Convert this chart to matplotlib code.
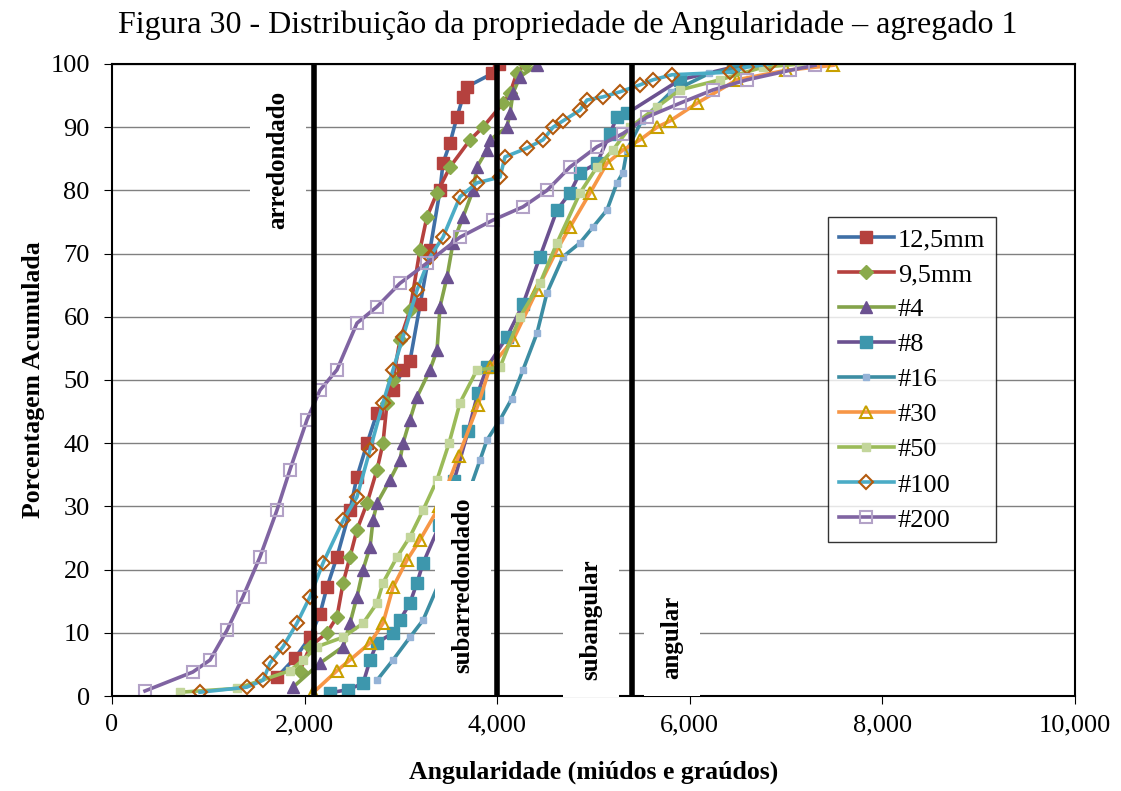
import matplotlib.pyplot as plt
from matplotlib.ticker import FuncFormatter

# Pontos (angularidade, % acumulada)
x_125 = [1713, 1900, 2056, 2160, 2232, 2336, 2471, 2544, 2650, 2752, 2918, 3022, 3094, 3200, 3302, 3406, 3437, 3510, 3582, 3645, 3686, 3950, 4020]
y_125 = [3, 6, 9.3, 13, 17.2, 22, 29.4, 34.7, 40, 44.8, 48.4, 51.6, 53, 62, 70.6, 80, 84.3, 87.5, 91.6, 94.8, 96.4, 98.5, 100]

x_95 = [1952, 2056, 2232, 2336, 2400, 2471, 2544, 2648, 2752, 2814, 2856, 2918, 2990, 3094, 3198, 3270, 3375, 3510, 3718, 3852, 4060, 4133, 4205, 4290]
y_95 = [4, 7.8, 10, 12.5, 17.9, 22, 26.3, 30.5, 35.8, 40, 46.4, 50, 56.3, 61, 70.6, 75.8, 79.6, 83.7, 88, 90, 93.8, 95.4, 98.6, 100]

x_4 = [1880, 2160, 2400, 2471, 2544, 2607, 2680, 2710, 2752, 2887, 2990, 3022, 3094, 3167, 3302, 3375, 3406, 3479, 3541, 3645, 3749, 3790, 3894, 3925, 4100, 4133, 4164, 4237, 4413]
y_4 = [1.4, 5.2, 7.8, 11.5, 15.7, 20, 23.6, 27.8, 30.5, 34.2, 37.3, 40, 43.7, 47.3, 51.6, 54.7, 61.6, 66.3, 71.7, 75.8, 80, 83.7, 86.4, 88, 90, 92.2, 95.4, 98, 99.8]

x_8 = [2260, 2450, 2607, 2680, 2752, 2918, 2990, 3094, 3167, 3230, 3400, 3550, 3700, 3800, 3894, 4100, 4268, 4444, 4621, 4756, 4860, 5036, 5171, 5244, 5348, 5898, 6449, 6780]
y_8 = [0.5, 1, 2, 5.7, 8.4, 10, 12, 14.7, 17.9, 21, 27, 34, 42, 48, 52, 56.8, 62, 69.5, 76.9, 79.6, 82.8, 84.3, 89, 91.6, 92.2, 97.5, 99.5, 100]

x_16 = [2752, 2918, 3094, 3230, 3400, 3550, 3700, 3821, 3894, 4029, 4150, 4268, 4413, 4517, 4683, 4860, 4995, 5140, 5244, 5306, 5348, 5500, 5800, 6200, 6700]
y_16 = [2.5, 5.7, 9.3, 12, 18, 25, 32, 37.3, 40.5, 43.7, 47, 51.6, 57.4, 63.8, 69.5, 71.7, 74.2, 76.9, 81.2, 82.8, 86.4, 91, 95.5, 98.5, 100]

x_30 = [2087, 2336, 2471, 2680, 2814, 2918, 3063, 3198, 3400, 3600, 3800, 3925, 4164, 4413, 4621, 4756, 4964, 5140, 5306, 5483, 5660, 5795, 6075, 6490, 7000, 7487]
y_30 = [0.5, 4, 5.7, 8.4, 11.5, 17.2, 21.5, 24.7, 30, 38, 46, 52, 56.3, 64.2, 70.6, 74.2, 79.6, 84.3, 86.4, 88, 90, 91, 93.8, 97.5, 99, 99.8]

x_50 = [706, 1300, 1850, 1983, 2129, 2400, 2607, 2752, 2814, 2960, 3094, 3230, 3375, 3500, 3614, 3790, 4029, 4237, 4444, 4621, 4860, 5036, 5202, 5379, 5660, 5898, 6313, 6760, 7144]
y_50 = [0.6, 1.2, 4, 5.7, 7.8, 9.3, 11.5, 14.7, 17.9, 22, 25.2, 29.4, 34.2, 40, 46.4, 51.6, 52, 60, 65.3, 71.7, 79.6, 83.7, 86.4, 90, 93.2, 95.9, 97.5, 99.5, 100]

x_100 = [914, 1400, 1570, 1640, 1776, 1920, 2056, 2190, 2400, 2544, 2680, 2814, 2918, 3022, 3167, 3302, 3437, 3614, 3790, 4029, 4081, 4310, 4476, 4580, 4683, 4860, 4932, 5100, 5275, 5483, 5618, 5815, 6417, 6594, 6833]
y_100 = [0.6, 1.4, 2.5, 5.2, 7.8, 11.5, 15.7, 21, 27.8, 31.5, 39, 46.4, 51.6, 56.8, 64.2, 69.5, 72.6, 79, 81.2, 82.1, 85.3, 86.7, 88, 90, 91, 92.7, 94.3, 94.8, 95.6, 96.7, 97.5, 98.3, 98.7, 99.5, 100]

x_200 = [343, 840, 1018, 1194, 1360, 1537, 1713, 1848, 2025, 2160, 2336, 2544, 2752, 2990, 3270, 3614, 3956, 4268, 4517, 4756, 5036, 5306, 5555, 5898, 6240, 6594, 7040, 7300]
y_200 = [0.8, 3.8, 5.7, 10.4, 15.7, 22, 29.4, 35.8, 43.7, 48.4, 51.6, 59, 61.6, 65.3, 68.5, 72.6, 75.3, 77.4, 80, 83.7, 86.9, 89, 91.6, 93.8, 95.9, 97.5, 99, 99.8]

limites = [2100, 4000, 5400]

plt.rcParams['font.family'] = ['Liberation Serif', 'DejaVu Serif']

fig = plt.figure(figsize=(11.21, 7.91), dpi=100)
ax = fig.add_axes([0.0999, 0.1201, 0.8591, 0.7990])

lw = 2.6
ax.plot(x_125, y_125, color='#3F6FA6', lw=lw, marker='s', ms=8, mfc='#B5413E', mec='#B5413E', label='12,5mm')
ax.plot(x_95, y_95, color='#B5413E', lw=lw, marker='D', ms=7, mfc='#8AAA4B', mec='#8AAA4B', label='9,5mm')
ax.plot(x_4, y_4, color='#84A34A', lw=lw, marker='^', ms=8, mfc='#6B5190', mec='#6B5190', label='#4')
ax.plot(x_8, y_8, color='#6B5190', lw=lw, marker='s', ms=8, mfc='#3D97AD', mec='#3D97AD', label='#8')
ax.plot(x_16, y_16, color='#3C8DA3', lw=lw, marker='s', ms=5, mfc='#95B3D7', mec='#95B3D7', label='#16')
ax.plot(x_30, y_30, color='#F79646', lw=lw, marker='^', ms=8, mfc='none', mec='#C8A000', mew=1.5, label='#30')
ax.plot(x_50, y_50, color='#9BBB59', lw=lw, marker='s', ms=6, mfc='#C3D69B', mec='#C3D69B', label='#50')
ax.plot(x_100, y_100, color='#4BACC6', lw=lw, marker='D', ms=7, mfc='none', mec='#B35A0E', mew=1.5, label='#100')
ax.plot(x_200, y_200, color='#8064A2', lw=lw, marker='s', ms=9, mfc='none', mec='#B3A2C7', mew=1.5, label='#200')

# Limites de classe
for xv in limites:
    ax.plot([xv, xv], [0, 100], color='black', lw=4, zorder=5)

caixa = dict(facecolor='white', edgecolor='none', pad=12)
ax.text(1724, 84.8, 'arredondado', rotation=90, ha='center', va='center', fontsize=18, fontweight='bold', bbox=caixa, zorder=10)
ax.text(3645, 17.5, 'subarredondado', rotation=90, ha='center', va='center', fontsize=18, fontweight='bold', bbox=caixa, zorder=10)
ax.text(4975, 12, 'subangular', rotation=90, ha='center', va='center', fontsize=18, fontweight='bold', bbox=caixa, zorder=10)
ax.text(5815, 9.3, 'angular', rotation=90, ha='center', va='center', fontsize=18, fontweight='bold', bbox=caixa, zorder=10)

ax.set_xlim(0, 10000)
ax.set_ylim(0, 100)
ax.set_xticks(range(0, 10001, 2000))
ax.set_yticks(range(0, 101, 10))
ax.xaxis.set_major_formatter(FuncFormatter(lambda v, p: f'{int(v):,}'))
ax.tick_params(labelsize=19, direction='out', length=6)
ax.tick_params(axis='y', pad=10)
ax.tick_params(axis='x', pad=7)
ax.grid(axis='y', color='#808080', lw=1)
ax.set_axisbelow(True)
for s in ax.spines.values():
    s.set_color('black')
    s.set_linewidth(1.5)

fig.text(0.506, 1 - 33 / 791, 'Figura 30 - Distribuição da propriedade de Angularidade – agregado 1',
         fontsize=23, ha='center', va='baseline')
ax.set_xlabel('Angularidade (miúdos e graúdos)', fontsize=18.5, fontweight='bold', labelpad=18)
ax.set_ylabel('Porcentagem Acumulada', fontsize=18.5, fontweight='bold', labelpad=4)

leg = ax.legend(loc='upper left', bbox_to_anchor=(0.7435, 0.758), borderaxespad=0, fontsize=19, frameon=True,
                fancybox=False, edgecolor='black', handlelength=2.1, labelspacing=0.44, borderpad=0.4,
                handletextpad=0.15)
leg.get_frame().set_linewidth(1)
leg.set_zorder(20)

fig.savefig('out.png', dpi=100)
